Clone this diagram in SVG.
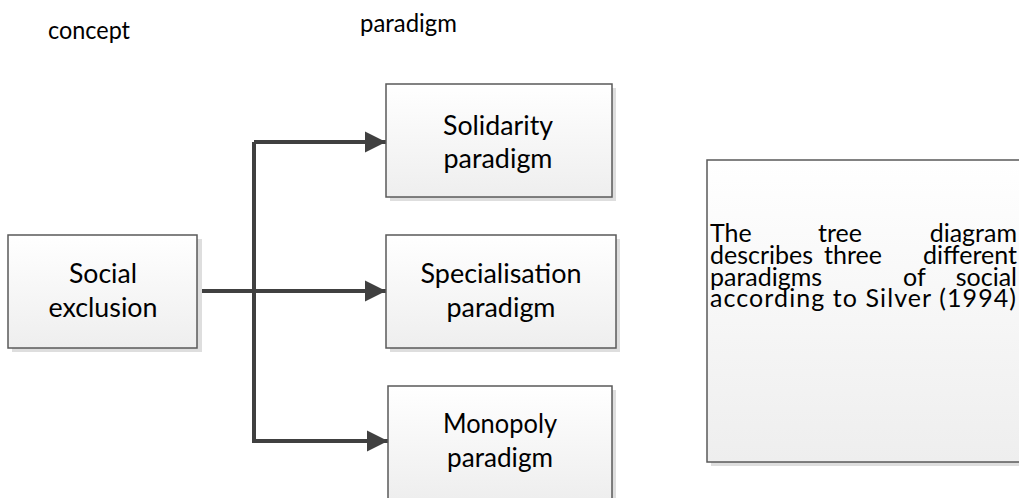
<svg xmlns="http://www.w3.org/2000/svg" width="1019" height="498" viewBox="0 0 1019 498">
  <defs>
    <linearGradient id="boxFill" x1="0" y1="0" x2="0" y2="1">
      <stop offset="0" stop-color="#ffffff"/>
      <stop offset="1" stop-color="#eeeeee"/>
    </linearGradient>
    <marker id="arrow" markerUnits="userSpaceOnUse" markerWidth="22" markerHeight="22" refX="21" refY="11" orient="auto">
      <path d="M0,0.5 L21,11 L0,21.5 Z" fill="#404040"/>
    </marker>
    <style>
      .shadow { fill: #dedede; }
      .box { fill: url(#boxFill); stroke: #5a5a5a; stroke-width: 1.5; }
      .lbl { font-family: Lato, "Open Sans", "Liberation Sans", sans-serif; font-size: 26px; fill: #000; text-anchor: middle; }
      .head { font-family: Lato, "Open Sans", "Liberation Sans", sans-serif; font-size: 25px; fill: #000; }
      .para { font-family: Lato, "Open Sans", "Liberation Sans", sans-serif; font-size: 25px; fill: #000; }
      .conn { fill: none; stroke: #404040; stroke-width: 4; }
    </style>
  </defs>
  <rect width="1019" height="498" fill="#ffffff"/>

  <g id="labels">
    <text class="head" x="48" y="39" textLength="82" lengthAdjust="spacingAndGlyphs">concept</text>
    <text class="head" x="360" y="32" textLength="97" lengthAdjust="spacingAndGlyphs">paradigm</text>
  </g>

  <g id="connectors">
    <line class="conn" x1="197" y1="291" x2="386" y2="291" marker-end="url(#arrow)"/>
    <line class="conn" x1="254" y1="142" x2="254" y2="443"/>
    <polyline class="conn" points="254,142 386,142" marker-end="url(#arrow)"/>
    <polyline class="conn" points="254,441 388,441" marker-end="url(#arrow)"/>
  </g>

  <g id="node-social-exclusion">
    <rect class="shadow" x="12" y="239" width="190" height="113"/>
    <rect class="box" x="8" y="235" width="189" height="113"/>
    <text class="lbl" x="103" y="283" textLength="68" lengthAdjust="spacingAndGlyphs">Social</text>
    <text class="lbl" x="103" y="317" textLength="109" lengthAdjust="spacingAndGlyphs">exclusion</text>
  </g>

  <g id="node-solidarity">
    <rect class="shadow" x="390" y="88" width="226" height="113"/>
    <rect class="box" x="386" y="84" width="226" height="113"/>
    <text class="lbl" x="498" y="135" textLength="110" lengthAdjust="spacingAndGlyphs">Solidarity</text>
    <text class="lbl" x="498" y="168" textLength="109" lengthAdjust="spacingAndGlyphs">paradigm</text>
  </g>

  <g id="node-specialisation">
    <rect class="shadow" x="390" y="239" width="230" height="113"/>
    <rect class="box" x="386" y="235" width="230" height="113"/>
    <text class="lbl" x="501" y="283" textLength="161" lengthAdjust="spacingAndGlyphs">Specialisation</text>
    <text class="lbl" x="501" y="317" textLength="109" lengthAdjust="spacingAndGlyphs">paradigm</text>
  </g>

  <g id="node-monopoly">
    <rect class="shadow" x="392" y="390" width="224" height="113"/>
    <rect class="box" x="388" y="386" width="224" height="113"/>
    <text class="lbl" x="500" y="433" textLength="114" lengthAdjust="spacingAndGlyphs">Monopoly</text>
    <text class="lbl" x="500" y="467" textLength="106" lengthAdjust="spacingAndGlyphs">paradigm</text>
  </g>

  <g id="node-note">
    <rect class="shadow" x="711" y="164" width="320" height="302"/>
    <rect class="box" x="707" y="160" width="320" height="302"/>
    <text class="para" x="710" y="242">The</text>
    <text class="para" x="818" y="242">tree</text>
    <text class="para" x="1017" y="242" text-anchor="end">diagram</text>
    <text class="para" x="710" y="264">describes</text>
    <text class="para" x="824" y="264">three</text>
    <text class="para" x="1017" y="264" text-anchor="end">different</text>
    <text class="para" x="710" y="286">paradigms</text>
    <text class="para" x="903" y="286">of</text>
    <text class="para" x="1017" y="286" text-anchor="end">social</text>
    <text class="para" x="710" y="307" textLength="306" lengthAdjust="spacing">according to Silver (1994)</text>
  </g>
</svg>
